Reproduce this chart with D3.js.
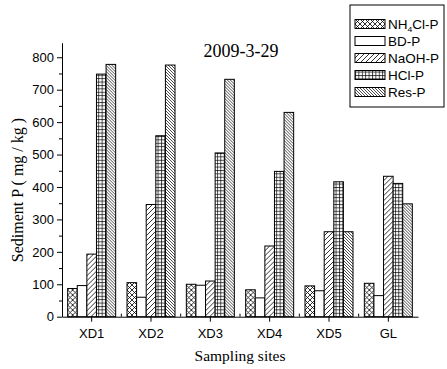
<!DOCTYPE html>
<html lang="en">
<head>
    <meta charset="UTF-8">
    <title> Sediment P </title>
    <script type="text/javascript" src="https://cdn.jsdelivr.net/npm/d3@7/dist/d3.min.js"></script>
    <style type="text/css">
        body { margin: 0; background: #fff; }
    </style>
</head>
<body>
    <script type="text/javascript">
        //Width and height
        var w = 447;
        var h = 369;

        //Data
        var sites = ["XD1", "XD2", "XD3", "XD4", "XD5", "GL"];
        var fractions = ["NH4Cl-P", "BD-P", "NaOH-P", "HCl-P", "Res-P"];
        var nh4clP = [87, 105, 100, 83, 95, 103];
        var bdP = [96, 60, 97, 58, 80, 65];
        var naohP = [193, 346, 110, 218, 262, 433];
        var hclP = [748, 558, 505, 448, 416, 411];
        var resP = [778, 776, 732, 630, 262, 348];
        var yTicks = [0, 100, 200, 300, 400, 500, 600, 700, 800];

        var series = [nh4clP, bdP, naohP, hclP, resP];
        var fills = ["url(#pCross)", "#fff", "url(#pFwd)", "url(#pGrid)", "url(#pBack)"];

        var left = 62, right = 418, bottom = 316.7;

        //Scales
        var xScale = d3.scaleBand()
            .domain(sites)
            .range([left, right]);

        var subScale = d3.scaleBand()
            .domain(d3.range(fractions.length))
            .range([0, 48]);

        var yScale = d3.scaleLinear()
            .domain([0, 845])
            .range([bottom, bottom - 845 * 0.3243]);

        var svg = d3.select("body")
            .append("svg")
            .attr("width", w)
            .attr("height", h);

        //Patterns
        var defs = svg.append("defs");

        function pattern(id, size, paths, sw) {
            var p = defs.append("pattern")
                .attr("id", id)
                .attr("patternUnits", "userSpaceOnUse")
                .attr("width", size)
                .attr("height", size);
            p.append("rect").attr("width", size).attr("height", size).attr("fill", "#fff");
            paths.forEach(function(d) {
                p.append("path").attr("d", d)
                    .attr("stroke", "#000")
                    .attr("stroke-width", sw)
                    .attr("fill", "none");
            });
        }
        pattern("pCross", 5, ["M0,0L5,5M-1,4L1,6M4,-1L6,1", "M0,5L5,0M-1,1L1,-1M4,6L6,4"], 0.8);
        pattern("pFwd", 5, ["M0,5L5,0M-1,1L1,-1M4,6L6,4"], 0.8);
        pattern("pGrid", 3.4, ["M0,0.5H3.4M0.5,0V3.4"], 0.7);
        pattern("pBack", 3, ["M0,0L3,3M-1,2L1,4M2,-1L4,1"], 0.7);

        //Bars
        var groups = svg.selectAll("g.site")
            .data(sites)
            .enter()
            .append("g")
            .attr("class", "site")
            .attr("transform", function(d) {
                return "translate(" + (xScale(d) + xScale.bandwidth() / 2 - 24) + ",0)";
            });

        groups.selectAll("rect")
            .data(function(d, i) {
                return series.map(function(s, k) { return { k: k, v: s[i] }; });
            })
            .enter()
            .append("rect")
            .attr("x", function(d) { return subScale(d.k); })
            .attr("y", function(d) { return yScale(d.v); })
            .attr("width", subScale.bandwidth())
            .attr("height", function(d) { return bottom - yScale(d.v); })
            .attr("fill", function(d) { return fills[d.k]; })
            .attr("stroke", "#000")
            .attr("stroke-width", 1);

        //Y axis
        var yAxis = svg.append("g")
            .attr("transform", "translate(" + left + ",0)")
            .call(d3.axisLeft(yScale).tickValues(yTicks).tickSize(5).tickPadding(3).tickSizeOuter(0));
        yAxis.selectAll("text")
            .attr("font-family", "Liberation Sans, Arial, sans-serif")
            .attr("font-size", "13px")
            .attr("fill", "#000");
        yAxis.select(".domain").attr("stroke", "#000");

        svg.append("g")
            .attr("transform", "translate(" + left + ",0)")
            .call(d3.axisLeft(yScale).tickValues(d3.range(50, 850, 100)).tickSize(3).tickFormat("").tickSizeOuter(0))
            .select(".domain").remove();

        //X axis
        var xAxis = svg.append("g")
            .attr("transform", "translate(0," + bottom + ")")
            .call(d3.axisBottom(xScale).tickSize(5).tickPadding(7).tickSizeOuter(0));
        xAxis.selectAll("text")
            .attr("font-family", "Liberation Sans, Arial, sans-serif")
            .attr("font-size", "13px")
            .attr("fill", "#000");
        xAxis.select(".domain").attr("stroke", "#000");

        svg.selectAll("line.minor")
            .data(sites.slice(1))
            .enter()
            .append("line")
            .attr("class", "minor")
            .attr("x1", function(d) { return xScale(d); })
            .attr("x2", function(d) { return xScale(d); })
            .attr("y1", bottom)
            .attr("y2", bottom - 3)
            .attr("stroke", "#000");

        //Title and labels
        svg.append("text")
            .text("2009-3-29")
            .attr("x", 241)
            .attr("y", 57)
            .attr("text-anchor", "middle")
            .attr("font-family", "Liberation Serif, Times New Roman, serif")
            .attr("font-size", "18px");

        svg.append("text")
            .text("Sampling sites")
            .attr("x", 240)
            .attr("y", 361)
            .attr("text-anchor", "middle")
            .attr("font-family", "Liberation Serif, Times New Roman, serif")
            .attr("font-size", "15.5px");

        svg.append("text")
            .text("Sediment P ( mg / kg )")
            .attr("transform", "translate(23,190) rotate(-90)")
            .attr("text-anchor", "middle")
            .attr("font-family", "Liberation Serif, Times New Roman, serif")
            .attr("font-size", "16px");

        //Legend
        var legend = svg.append("g");
        legend.append("rect")
            .attr("x", 350)
            .attr("y", 5)
            .attr("width", 94)
            .attr("height", 102)
            .attr("fill", "#fff")
            .attr("stroke", "#000");

        var items = legend.selectAll("g.item")
            .data(fractions)
            .enter()
            .append("g")
            .attr("class", "item")
            .attr("transform", function(d, i) {
                return "translate(355," + (24 + i * 17) + ")";
            });

        items.append("rect")
            .attr("x", 0)
            .attr("y", -4.5)
            .attr("width", 30)
            .attr("height", 9)
            .attr("fill", function(d, i) { return fills[i]; })
            .attr("stroke", "#000");

        var labels = items.append("text")
            .attr("transform", "translate(33,4.5) scale(1.08,1)")
            .attr("font-family", "Liberation Sans, Arial, sans-serif")
            .attr("font-size", "12.5px");

        labels.each(function(d) {
            var t = d3.select(this);
            if (d === "NH4Cl-P") {
                t.append("tspan").text("NH");
                t.append("tspan").text("4").attr("font-size", "8px").attr("dy", 3);
                t.append("tspan").text("Cl-P").attr("dy", -3);
            } else {
                t.text(d);
            }
        });
    </script>
</body>
</html>
